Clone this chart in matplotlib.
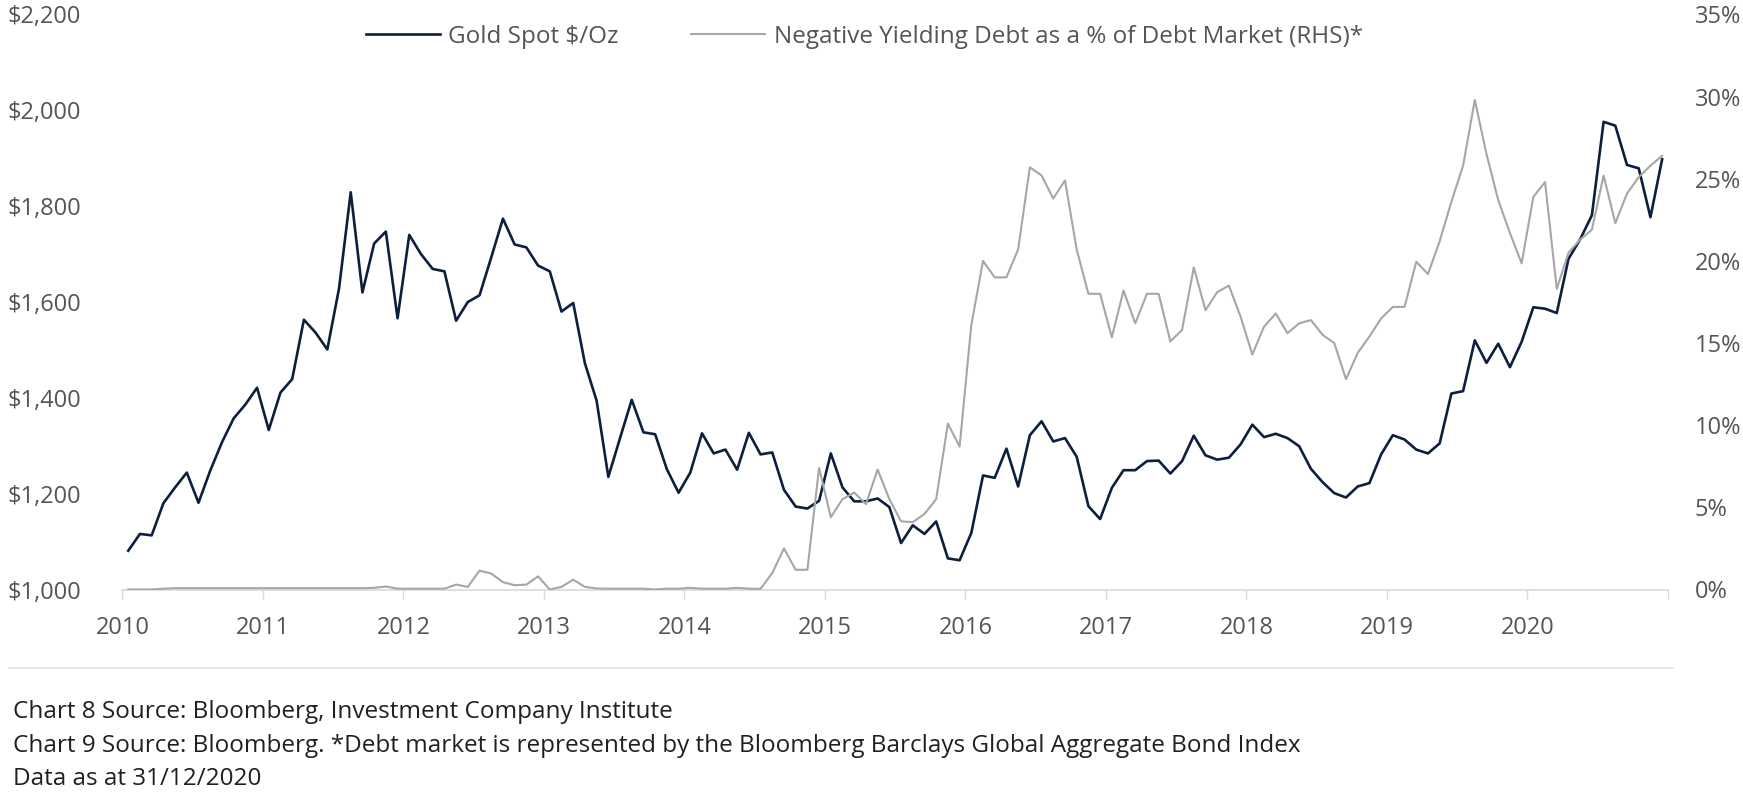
import numpy as np
import matplotlib
matplotlib.use("Agg")
import matplotlib.pyplot as plt
from matplotlib.lines import Line2D

# monthly values, Jan 2010 -> Dec 2020
years = list(range(2010, 2021))

gold = [
    1081, 1116, 1113, 1180, 1213, 1244, 1181, 1248, 1307, 1357, 1386, 1421,
    1333, 1411, 1439, 1563, 1536, 1501, 1628, 1829, 1620, 1722, 1747, 1566,
    1740, 1700, 1669, 1664, 1561, 1600, 1614, 1693, 1774, 1720, 1714, 1676,
    1664, 1580, 1598, 1472, 1394, 1235, 1316, 1396, 1328, 1324, 1251, 1202,
    1244, 1326, 1284, 1292, 1250, 1327, 1282, 1286, 1208, 1173, 1169, 1185,
    1284, 1213, 1184, 1184, 1190, 1172, 1097, 1134, 1116, 1142, 1065, 1061,
    1118, 1238, 1233, 1294, 1215, 1322, 1351, 1309, 1316, 1277, 1174, 1147,
    1212, 1249, 1249, 1268, 1269, 1242, 1268, 1321, 1280, 1271, 1275, 1303,
    1344, 1318, 1325, 1316, 1299, 1252, 1224, 1201, 1192, 1215, 1222, 1282,
    1322, 1313, 1292, 1284, 1305, 1409, 1414, 1520, 1473, 1513, 1464, 1517,
    1589, 1586, 1577, 1690, 1731, 1781, 1976, 1968, 1886, 1879, 1777, 1898,
]

neg_debt = [
    0.0, 0.0, 0.0, 0.05, 0.08, 0.08, 0.08, 0.08, 0.08, 0.08, 0.08, 0.08,
    0.08, 0.08, 0.08, 0.08, 0.08, 0.08, 0.08, 0.08, 0.08, 0.1, 0.18, 0.05,
    0.05, 0.05, 0.05, 0.05, 0.3, 0.16, 1.15, 0.97, 0.45, 0.26, 0.3, 0.8,
    0.0, 0.16, 0.6, 0.16, 0.06, 0.05, 0.05, 0.05, 0.05, 0.0, 0.05, 0.05,
    0.1, 0.05, 0.05, 0.05, 0.1, 0.05, 0.04, 1.0, 2.5, 1.2, 1.2, 7.4,
    4.4, 5.5, 5.9, 5.2, 7.3, 5.5, 4.15, 4.1, 4.6, 5.5, 10.1, 8.7,
    16.1, 20.0, 19.0, 19.0, 20.7, 25.7, 25.2, 23.8, 24.9, 20.7, 18.0, 18.0,
    15.35, 18.2, 16.2, 18.0, 18.0, 15.1, 15.8, 19.6, 17.0, 18.1, 18.5, 16.6,
    14.3, 16.0, 16.8, 15.6, 16.2, 16.4, 15.5, 15.0, 12.8, 14.4, 15.4, 16.5,
    17.2, 17.2, 19.95, 19.2, 21.2, 23.6, 25.8, 29.8, 26.5, 23.7, 21.7, 19.85,
    23.9, 24.8, 18.3, 20.5, 21.3, 21.9, 25.2, 22.3, 24.1, 25.1, 25.8, 26.4,
]

gold_ticks = list(range(1000, 2201, 200))
pct_ticks = list(range(0, 36, 5))

footnotes = [
    "Chart 8 Source: Bloomberg, Investment Company Institute",
    "Chart 9 Source: Bloomberg. *Debt market is represented by the Bloomberg "
    "Barclays Global Aggregate Bond Index",
    "Data as at 31/12/2020",
]

NAVY = "#0c1f3d"
GREY = "#a6a6a6"
TXT = "#555555"
AXIS = "#d9d9d9"
FS = 17
LEG_FS = 17.5

plt.rcParams["font.family"] = ["Open Sans", "DejaVu Sans"]

W, H = 1743, 792
fig = plt.figure(figsize=(W / 100, H / 100), dpi=100)
ax = fig.add_axes([122.4 / W, 1 - 589.5 / H, (1668 - 122.4) / W, 575 / H])
ax2 = ax.twinx()

x = np.arange(len(gold)) + 0.5
l1, = ax.plot(x, gold, color=NAVY, lw=1.9)
l2, = ax2.plot(x, neg_debt, color=GREY, lw=1.5)

ax.set_xlim(0, len(gold))
ax.set_ylim(1000, 2200)
ax2.set_ylim(0, 35)

ax.set_xticks(range(0, len(gold) + 1, 12))
ax.set_xticklabels([str(y) for y in years] + [""])
ax.set_yticks(gold_ticks)
ax.set_yticklabels([f"${v:,}" for v in gold_ticks])
ax2.set_yticks(pct_ticks)
ax2.set_yticklabels([f"{v}%" for v in pct_ticks])

for a in (ax, ax2):
    for s in a.spines.values():
        s.set_visible(False)
ax.spines["bottom"].set_visible(True)
ax.spines["bottom"].set_color(AXIS)
ax.spines["bottom"].set_linewidth(1.2)

ax.tick_params(axis="x", length=6.5, width=1, color=AXIS, pad=12.5,
               labelsize=FS, labelcolor=TXT)
ax.tick_params(axis="y", length=0, pad=29.7, labelsize=FS, labelcolor=TXT)
ax2.tick_params(axis="y", length=0, pad=19.2, labelsize=FS, labelcolor=TXT)

# legend spacing given in pixels, converted to font-size units
em = LEG_FS * 100 / 72
fig.legend(
    [l1, l2],
    ["Gold Spot $/Oz", "Negative Yielding Debt as a % of Debt Market (RHS)*"],
    loc="center left", bbox_to_anchor=(365.5 / W, 1 - 37 / H),
    bbox_transform=fig.transFigure, ncol=2, frameon=False, fontsize=LEG_FS,
    borderpad=0, borderaxespad=0, handlelength=74.5 / em,
    handletextpad=8.5 / em, columnspacing=71.6 / em, labelcolor=TXT,
)

fig.add_artist(Line2D([8.6 / W, 1673 / W], [1 - 668 / H] * 2,
                      transform=fig.transFigure, color="#e3e3e3", lw=1.2))

for yy, txt in zip((718, 752, 785), footnotes):
    fig.text(12.6 / W, 1 - yy / H, txt, fontsize=17.5, color="#231f20",
             va="baseline", ha="left")

fig.savefig("out.png", dpi=100)
